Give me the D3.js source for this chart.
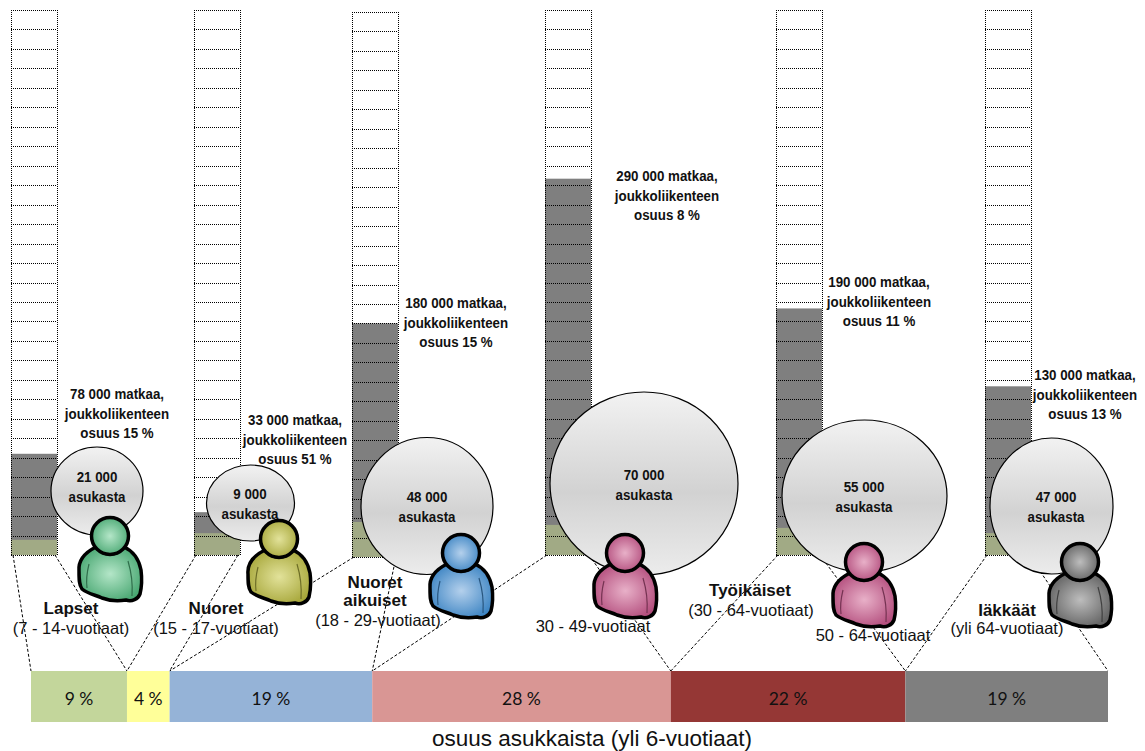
<!DOCTYPE html>
<html>
<head>
<meta charset="utf-8">
<script src="https://cdn.jsdelivr.net/npm/d3@7"></script>
<style>
  html, body { margin: 0; padding: 0; background: #fff; }
  svg { display: block; }
</style>
</head>
<body>
<div id="chart"></div>
<script>
"use strict";

// trips per day, transit share of them (%), residents, share of residents (%)
const trips = [78000, 33000, 180000, 290000, 190000, 130000];
const transitShare = [15, 51, 15, 8, 11, 13];
const residents = [21000, 9000, 48000, 70000, 55000, 47000];
const residentShare = [9, 4, 19, 28, 22, 19];
const shareColors = ["#c3d69b", "#ffff99", "#95b3d7", "#d99694", "#953735", "#7f7f7f"];

const CELL_TRIPS = 15000;
const MAX_TRIPS = 420000;

// hand placement of the columns, bubbles and figures
const columnLeft = [11, 194, 352, 545, 776, 985];
const columnBase = [555, 555, 557, 555, 555, 555];
const bubbleCenter = [[97, 491], [250.5, 503], [427, 506], [644, 483.5], [864.5, 496], [1051.5, 506]];
const figureHead = [[110, 536], [279, 539], [461, 553], [625, 553], [864, 562], [1080, 562]];
const figureLight = ["#b4e6c8", "#e2e29a", "#b4d0ec", "#e8b0c8", "#e8b0c8", "#bdbdbd"];
const figureDark = ["#4aa873", "#a8a83c", "#3f86c4", "#b44f7e", "#b44f7e", "#636363"];
const tripLabelAt = [[117, 394], [295, 420], [456, 303], [667, 176], [879, 282], [1085, 375]];
const residentLabelAt = [[97, 477], [250, 494], [427, 497], [644, 475], [864, 487], [1056, 497]];

// text, x, y
const groupNames = [
  ["Lapset", 71, 608], ["Nuoret", 216, 608], ["Nuoret", 375, 582], ["aikuiset", 375, 600],
  ["Työikäiset", 750, 590], ["Iäkkäät", 1007, 610]
];
const ageLabels = [
  ["(7 - 14-vuotiaat)", 71, 628], ["(15 - 17-vuotiaat)", 216, 628], ["(18 - 29-vuotiaat)", 378, 620],
  ["30 - 49-vuotiaat", 593, 626], ["(30 - 64-vuotiaat)", 751, 610], ["50 - 64-vuotiaat", 873, 635],
  ["(yli 64-vuotiaat)", 1007, 628]
];

const COL_WIDTH = 46;
const COL_HEIGHT = 545;
const BAR_TOP = 671;
const BAR_HEIGHT = 51;

const svg = d3.select("#chart")
  .append("svg")
  .attr("width", 1145)
  .attr("height", 751);

const defs = svg.append("defs");

/* Scales */
const yHeight = d3.scaleLinear().domain([0, MAX_TRIPS]).range([0, COL_HEIGHT]);
const xShare = d3.scaleLinear().domain([0, d3.sum(residentShare)]).range([31, 1108]);
const rxScale = d3.scaleLinear()
  .domain([9000, 21000, 47000, 48000, 55000, 70000])
  .range([44, 46, 61.5, 66, 82.5, 94]);
const ryScale = d3.scaleLinear()
  .domain([9000, 21000, 47000, 48000, 55000, 70000])
  .range([38, 44, 68, 68.5, 76, 91.5]);

const formatThousands = d3.formatLocale({
  decimal: ",", thousands: " ", grouping: [3], currency: ["", ""]
}).format(",");

/* Running share totals give the boundaries of the bottom bar */
const shareEdges = [0];
residentShare.forEach((s, i) => shareEdges.push(shareEdges[i] + s));

/* Dashed connectors from each column's foot down to its slice of the bar */
const connectors = svg.append("g")
  .attr("fill", "none")
  .attr("stroke", "#000")
  .attr("stroke-width", 1)
  .attr("stroke-dasharray", "3,2");

columnLeft.forEach(function (left, i) {
  const base = columnBase[i];
  connectors.append("line")
    .attr("x1", left + 2).attr("y1", base)
    .attr("x2", xShare(shareEdges[i])).attr("y2", BAR_TOP);
  connectors.append("line")
    .attr("x1", left + COL_WIDTH - 2).attr("y1", base)
    .attr("x2", xShare(shareEdges[i + 1])).attr("y2", BAR_TOP);
});

/* Columns: trips in grey, transit part in green, dotted cell grid over them */
const cellCount = MAX_TRIPS / CELL_TRIPS;

columnLeft.forEach(function (left, i) {
  const base = columnBase[i];
  const col = svg.append("g").attr("class", "column");

  col.append("rect")
    .attr("x", left)
    .attr("y", base - yHeight(trips[i]))
    .attr("width", COL_WIDTH)
    .attr("height", yHeight(trips[i]))
    .attr("fill", "#7f7f7f");

  const transit = trips[i] * transitShare[i] / 100;
  col.append("rect")
    .attr("x", left)
    .attr("y", base - yHeight(transit))
    .attr("width", COL_WIDTH)
    .attr("height", yHeight(transit))
    .attr("fill", "#a1aa85");

  const grid = col.append("g")
    .attr("stroke", "#000")
    .attr("stroke-width", 1)
    .attr("stroke-dasharray", "1,1");

  // one line per cell boundary so the dots stay in phase
  grid.selectAll(".cellLine")
    .data(d3.range(cellCount + 1))
    .enter()
    .append("line")
    .attr("class", "cellLine")
    .attr("x1", left)
    .attr("x2", left + COL_WIDTH)
    .attr("y1", d => Math.round(base - yHeight(d * CELL_TRIPS)) + 0.5)
    .attr("y2", d => Math.round(base - yHeight(d * CELL_TRIPS)) + 0.5);

  [left, left + COL_WIDTH].forEach(function (x) {
    grid.append("line")
      .attr("x1", x + 0.5)
      .attr("x2", x + 0.5)
      .attr("y1", base - COL_HEIGHT)
      .attr("y2", base);
  });
});

/* Resident bubbles */
const bubbleFill = defs.append("linearGradient")
  .attr("id", "bubbleFill")
  .attr("x1", 0).attr("y1", 0).attr("x2", 0).attr("y2", 1);
bubbleFill.append("stop").attr("offset", "0%").attr("stop-color", "#f2f2f2");
bubbleFill.append("stop").attr("offset", "55%").attr("stop-color", "#d2d2d2");
bubbleFill.append("stop").attr("offset", "100%").attr("stop-color", "#ececec");

svg.selectAll(".bubble")
  .data(residents)
  .enter()
  .append("ellipse")
  .attr("class", "bubble")
  .attr("cx", (d, i) => bubbleCenter[i][0])
  .attr("cy", (d, i) => bubbleCenter[i][1])
  .attr("rx", d => rxScale(d))
  .attr("ry", d => ryScale(d))
  .attr("fill", "url(#bubbleFill)")
  .attr("stroke", "#000")
  .attr("stroke-width", 1.2);

/* Person figures, drawn around the centre of the head */
const bodyPath = "M-14,11 C-24,16 -32,24 -31,35 C-31,43 -31,49 -28,53 C-22,58 -14,59 -8,62 " +
  "C0,65 10,65 16,64 C22,66 28,63 30,58 C32,50 32,42 31,34 C29,24 23,15 14,11 " +
  "C6,20 -6,20 -14,11 Z";

figureHead.forEach(function (head, i) {
  const gradId = `figureFill${i}`;
  const grad = defs.append("radialGradient")
    .attr("id", gradId)
    .attr("cx", "50%").attr("cy", "50%").attr("r", "55%");
  grad.append("stop").attr("offset", "0%").attr("stop-color", figureLight[i]);
  grad.append("stop").attr("offset", "100%").attr("stop-color", figureDark[i]);

  const fig = svg.append("g")
    .attr("class", "figure")
    .attr("transform", `translate(${head[0]},${head[1]})`);

  fig.append("path")
    .attr("d", bodyPath)
    .attr("fill", `url(#${gradId})`)
    .attr("stroke", "#000")
    .attr("stroke-width", 3.5)
    .attr("stroke-linejoin", "round");

  // arm creases
  fig.append("path")
    .attr("d", "M-21,28 C-23,36 -24,44 -23,52 M18,25 C21,35 23,46 22,60")
    .attr("fill", "none")
    .attr("stroke", d3.color(figureDark[i]).darker(1.2))
    .attr("stroke-width", 1.2);

  fig.append("circle")
    .attr("r", 18.5)
    .attr("fill", `url(#${gradId})`)
    .attr("stroke", "#000")
    .attr("stroke-width", 3.5);
});

/* Bottom bar of resident shares */
svg.selectAll(".share")
  .data(residentShare)
  .enter()
  .append("rect")
  .attr("class", "share")
  .attr("x", (d, i) => xShare(shareEdges[i]))
  .attr("y", BAR_TOP)
  .attr("width", d => xShare(d) - xShare(0))
  .attr("height", BAR_HEIGHT)
  .attr("fill", (d, i) => shareColors[i]);

svg.selectAll(".shareLabel")
  .data(residentShare)
  .enter()
  .append("text")
  .attr("class", "shareLabel")
  .attr("x", (d, i) => xShare(shareEdges[i] + d / 2))
  .attr("y", BAR_TOP + 34)
  .attr("text-anchor", "middle")
  .attr("font-family", "Lato, sans-serif")
  .attr("font-size", 17.5)
  .attr("fill", "#111")
  .text(d => `${d} %`);

svg.append("text")
  .attr("x", 592)
  .attr("y", 746)
  .attr("text-anchor", "middle")
  .attr("font-family", "'Liberation Sans', sans-serif")
  .attr("font-size", 22.5)
  .attr("fill", "#111")
  .text("osuus asukkaista (yli 6-vuotiaat)");

/* Labels: bold text squeezed sideways since no narrow face is around */
function boldNarrow(x, y, str) {
  svg.append("text")
    .attr("transform", `translate(${x},${y}) scale(0.86,1)`)
    .attr("text-anchor", "middle")
    .attr("font-family", "'Liberation Sans', sans-serif")
    .attr("font-weight", "bold")
    .attr("font-size", 15.5)
    .attr("fill", "#111")
    .text(str);
}

trips.forEach(function (t, i) {
  const [x, y] = tripLabelAt[i];
  boldNarrow(x, y + 5, `${formatThousands(t)} matkaa,`);
  boldNarrow(x, y + 24.5, "joukkoliikenteen");
  boldNarrow(x, y + 44, `osuus ${transitShare[i]} %`);
});

residents.forEach(function (r, i) {
  const [x, y] = residentLabelAt[i];
  boldNarrow(x, y + 5, formatThousands(r));
  boldNarrow(x, y + 25, "asukasta");
});

svg.selectAll(".groupName")
  .data(groupNames)
  .enter()
  .append("text")
  .attr("class", "groupName")
  .attr("x", d => d[1])
  .attr("y", d => d[2] + 6)
  .attr("text-anchor", "middle")
  .attr("font-family", "'Liberation Sans', sans-serif")
  .attr("font-weight", "bold")
  .attr("font-size", 17)
  .attr("fill", "#111")
  .text(d => d[0]);

svg.selectAll(".ageLabel")
  .data(ageLabels)
  .enter()
  .append("text")
  .attr("class", "ageLabel")
  .attr("x", d => d[1])
  .attr("y", d => d[2] + 6)
  .attr("text-anchor", "middle")
  .attr("font-family", "'Liberation Sans', sans-serif")
  .attr("font-size", 16.5)
  .attr("fill", "#111")
  .text(d => d[0]);
</script>
</body>
</html>
